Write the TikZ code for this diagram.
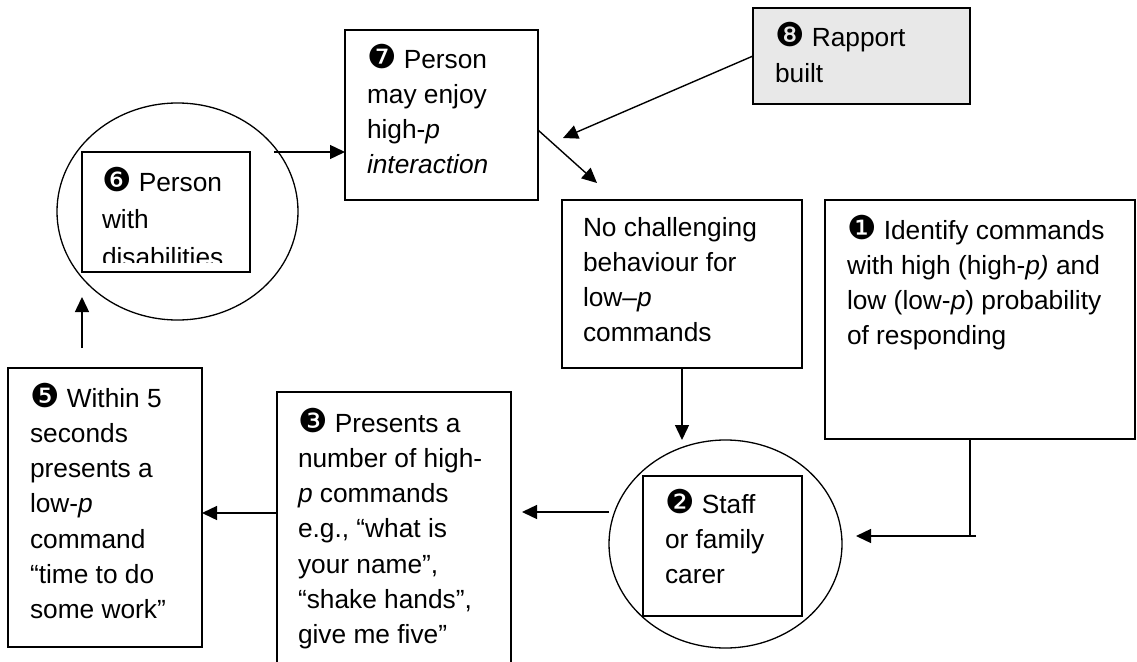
\documentclass[tikz,border=0pt]{standalone}
\usepackage{fontspec}
\setmainfont{Liberation Sans}
\newfontfamily\dingfont{DejaVu Sans}[Scale=1.25]
\usetikzlibrary{arrows.meta,shapes.geometric}

% circled step numbers
\newcommand{\nb}[1]{{\dingfont #1}}
% left-aligned block whose reference point is the first baseline
\newcommand{\flowtext}[1]{\parbox[t]{330pt}{\raggedright #1}}

\definecolor{rapportfill}{RGB}{232,232,232}

\tikzset{
  stepbox/.style={draw, line width=1.6pt, inner sep=0pt, outer sep=0pt, anchor=north west},
  ring/.style={draw, ellipse, line width=1.3pt, inner sep=0pt, outer sep=0pt},
  txt/.style={anchor=base west, inner sep=0pt, outer sep=0pt, font=\fontsize{26.3}{35.3}\selectfont},
  arr/.style={line width=1.4pt, -{Triangle[length=15pt,width=14pt]}},
  link/.style={line width=1.4pt}
}

\begin{document}
\begin{tikzpicture}[x=1pt,y=-1pt]
\useasboundingbox (0,0) rectangle (1137,661);
\clip (0,0) rectangle (1137,661);

% --- shapes ---
\node[ring, minimum width=241pt, minimum height=217pt] (e6) at (177.5,211.5) {};
\node[ring, minimum width=233pt, minimum height=208pt] (e2) at (725.5,544) {};

\node[stepbox, minimum width=168pt, minimum height=120pt] (b6) at (82,152) {};
\node[stepbox, minimum width=193pt, minimum height=170pt] (b7) at (345,30) {};
\node[stepbox, fill=rapportfill, minimum width=217pt, minimum height=96pt] (b8) at (753,8) {};
\node[stepbox, minimum width=240pt, minimum height=168pt] (bn) at (562,200) {};
\node[stepbox, minimum width=310pt, minimum height=239pt] (b1) at (825,200) {};
\node[stepbox, minimum width=159pt, minimum height=140pt] (b2) at (643,476) {};
\node[stepbox, minimum width=234pt, minimum height=300pt] (b3) at (277,392) {};
\node[stepbox, minimum width=194pt, minimum height=279pt] (b5) at (8,368) {};

% --- texts ---
\begin{scope}
  % the last line of this box runs past its text frame and is cut off
  \clip (82,152) rectangle (250,262);
  \node[txt, font=\fontsize{26.3}{37.5}\selectfont] (t6) at (102,191) {\flowtext{\nb{❻} Person\\with\\disabilities}};
\end{scope}
\node[txt] (t7) at (367,68) {\flowtext{\nb{❼} Person\\may enjoy\\high-\textit{p}\\\textit{interaction}}};
\node[txt] (t8) at (775,47) {\flowtext{\nb{❽} Rapport\\built}};
\node[txt] (tn) at (583,236) {\flowtext{No challenging\\behaviour for\\low–\textit{p}\\commands}};
\node[txt] (t1) at (847,239) {\flowtext{\nb{❶} Identify commands\\with high (high-\textit{p)} and\\low (low-\textit{p}) probability\\of responding}};
\node[txt] (t2) at (665,513) {\flowtext{\nb{❷} Staff\\or family\\carer}};
\node[txt] (t3) at (298,432) {\flowtext{\nb{❸} Presents a\\number of high-\\\textit{p} commands\\e.g., “what is\\your name”,\\“shake hands”,\\give me five”}};
\node[txt] (t5) at (30,407) {\flowtext{\nb{❺} Within 5\\seconds\\presents a\\low-\textit{p}\\command\\“time to do\\some work”}};

% --- connector end points ---
\coordinate (s6) at (274,152);
\coordinate (t7in) at (563,138);
\coordinate (s7) at (538,130);
\coordinate (tnin) at (597,183);
\coordinate (k1) at (970,536);
\coordinate (k1e) at (976,536);
\coordinate (k1t) at (856,536);
\coordinate (s2) at (609,512);
\coordinate (t3in) at (522,512);
\coordinate (s5) at (82,348);
\coordinate (t6in) at (82,297);
\coordinate (y35) at (0,513);

% --- connectors ---
\draw[arr] (s6) -- (s6 -| b7.west);
\draw[arr] (b8.west) -- (t7in);
\draw[arr] (s7) -- (tnin);
\draw[arr] (bn.south) -- (bn.south |- e2.north);
\draw[link] (k1 |- b1.south) -- (k1);
\draw[arr] (k1e) -- (k1t);
\draw[arr] (s2) -- (t3in);
\draw[arr] (b3.west |- y35) -- (b5.east |- y35);
\draw[arr] (s5) -- (t6in);
\end{tikzpicture}
\end{document}
